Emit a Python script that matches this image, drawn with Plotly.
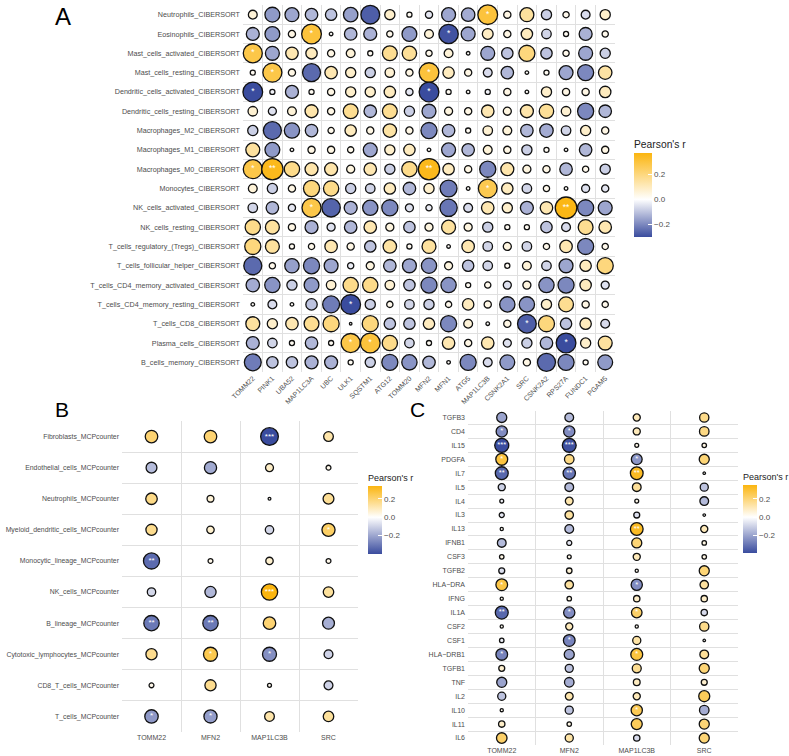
import numpy as np
import plotly.graph_objects as go

# ---------------- Panel A data ----------------
cols_A = ["TOMM22", "PINK1", "UBA52", "MAP1LC3A", "UBC", "ULK1", "SQSTM1", "ATG12",
          "TOMM20", "MFN2", "MFN1", "ATG5", "MAP1LC3B", "CSNK2A1", "SRC", "CSNK2A2",
          "RPS27A", "FUNDC1", "PGAM5"]
rows_A = ["Neutrophils_CIBERSORT", "Eosinophils_CIBERSORT", "Mast_cells_activated_CIBERSORT",
          "Mast_cells_resting_CIBERSORT", "Dendritic_cells_activated_CIBERSORT",
          "Dendritic_cells_resting_CIBERSORT", "Macrophages_M2_CIBERSORT", "Macrophages_M1_CIBERSORT",
          "Macrophages_M0_CIBERSORT", "Monocytes_CIBERSORT", "NK_cells_activated_CIBERSORT",
          "NK_cells_resting_CIBERSORT", "T_cells_regulatory_(Tregs)_CIBERSORT",
          "T_cells_follicular_helper_CIBERSORT", "T_cells_CD4_memory_activated_CIBERSORT",
          "T_cells_CD4_memory_resting_CIBERSORT", "T_cells_CD8_CIBERSORT", "Plasma_cells_CIBERSORT",
          "B_cells_memory_CIBERSORT"]
r_A = [
    [0.06, -0.17, -0.15, -0.12, -0.10, -0.16, -0.27, 0.08, 0.02, -0.04, -0.15, -0.14, 0.30, 0.04, 0.15, -0.08, 0.03, -0.06, 0.08],
    [-0.13, -0.17, 0.04, 0.30, 0.01, -0.12, -0.13, 0.03, -0.17, 0.06, -0.29, -0.15, 0.09, 0.04, 0.10, -0.07, 0.02, -0.13, 0.03],
    [0.28, -0.15, 0.12, 0.10, 0.04, 0.06, 0.02, 0.17, 0.16, 0.03, 0.06, 0.01, -0.15, -0.10, 0.20, -0.10, 0.03, -0.15, -0.08],
    [0.02, 0.28, 0.04, -0.25, 0.12, 0.08, -0.08, 0.07, 0.04, 0.30, 0.10, 0.04, -0.06, -0.12, 0.01, 0.02, -0.15, -0.20, 0.14],
    [-0.30, -0.02, -0.13, 0.02, 0.04, 0.08, 0.08, 0.10, -0.04, -0.30, 0.02, 0.01, -0.02, 0.04, 0.01, 0.08, 0.04, 0.04, 0.10],
    [0.07, -0.05, 0.06, 0.13, 0.04, 0.17, -0.12, 0.17, -0.08, -0.15, 0.05, 0.04, 0.12, 0.05, 0.13, 0.16, 0.07, -0.20, -0.12],
    [-0.08, -0.25, -0.18, -0.12, 0.03, 0.10, 0.04, 0.14, 0.04, -0.20, -0.12, 0.02, 0.07, 0.06, -0.12, -0.14, -0.07, 0.08, 0.04],
    [0.15, -0.17, 0.01, 0.04, 0.04, 0.03, -0.15, 0.08, 0.10, 0.01, -0.15, -0.12, 0.06, 0.04, -0.08, 0.02, 0.01, -0.12, 0.04],
    [0.28, 0.35, 0.18, 0.13, 0.13, 0.05, 0.12, -0.08, 0.18, 0.35, 0.10, 0.04, -0.20, 0.13, 0.05, 0.04, -0.12, 0.03, -0.08],
    [0.06, -0.08, 0.04, 0.20, 0.18, -0.08, -0.07, 0.10, -0.12, 0.08, -0.22, 0.01, 0.27, 0.10, -0.07, 0.03, 0.01, -0.05, -0.04],
    [-0.07, -0.12, -0.04, 0.28, -0.26, -0.13, -0.18, -0.20, -0.05, -0.03, -0.23, -0.06, 0.12, 0.08, -0.13, 0.12, 0.36, -0.20, -0.15],
    [0.18, 0.15, 0.04, -0.13, -0.05, -0.12, 0.12, 0.05, -0.10, 0.05, 0.15, 0.05, -0.08, 0.02, 0.02, -0.10, -0.06, 0.17, 0.12],
    [0.20, 0.15, 0.02, 0.03, 0.12, 0.04, -0.10, 0.14, 0.02, 0.15, 0.01, 0.12, -0.07, 0.05, -0.07, 0.03, 0.12, -0.20, 0.03],
    [-0.25, 0.03, -0.16, -0.20, -0.15, -0.03, 0.05, -0.12, -0.15, -0.18, 0.05, -0.10, -0.07, 0.02, 0.06, -0.07, -0.15, 0.10, 0.20],
    [-0.14, -0.18, -0.08, -0.17, 0.07, 0.18, 0.18, 0.07, -0.10, -0.20, -0.18, 0.02, 0.03, -0.05, 0.05, -0.18, -0.20, 0.10, -0.05],
    [0.01, -0.06, 0.01, -0.10, -0.22, -0.30, -0.08, 0.03, -0.07, -0.08, 0.03, 0.10, 0.04, -0.18, -0.18, 0.08, 0.17, 0.04, 0.03],
    [0.15, 0.08, 0.12, 0.17, 0.20, 0.005, 0.20, -0.10, -0.10, 0.10, -0.20, 0.06, 0.01, 0.04, -0.27, 0.20, -0.10, 0.10, -0.06],
    [-0.13, -0.07, 0.02, -0.12, 0.02, 0.28, 0.30, 0.18, -0.07, 0.02, 0.12, 0.04, 0.12, -0.05, -0.08, -0.12, -0.30, 0.08, 0.15],
    [-0.22, -0.10, -0.10, -0.13, -0.13, 0.02, -0.08, -0.20, -0.18, -0.12, 0.01, -0.20, -0.06, -0.17, 0.04, -0.25, -0.20, 0.02, -0.17],
]
sig_A = [
    ("Neutrophils_CIBERSORT", "MAP1LC3B", "*"),
    ("Eosinophils_CIBERSORT", "MAP1LC3A", "*"),
    ("Eosinophils_CIBERSORT", "MFN1", "*"),
    ("Mast_cells_activated_CIBERSORT", "TOMM22", "*"),
    ("Mast_cells_resting_CIBERSORT", "PINK1", "*"),
    ("Mast_cells_resting_CIBERSORT", "MFN2", "*"),
    ("Dendritic_cells_activated_CIBERSORT", "TOMM22", "*"),
    ("Dendritic_cells_activated_CIBERSORT", "MFN2", "*"),
    ("Macrophages_M0_CIBERSORT", "TOMM22", "*"),
    ("Macrophages_M0_CIBERSORT", "PINK1", "**"),
    ("Macrophages_M0_CIBERSORT", "MFN2", "**"),
    ("Monocytes_CIBERSORT", "MAP1LC3B", "*"),
    ("NK_cells_activated_CIBERSORT", "MAP1LC3A", "*"),
    ("NK_cells_activated_CIBERSORT", "RPS27A", "**"),
    ("T_cells_CD4_memory_resting_CIBERSORT", "ULK1", "*"),
    ("T_cells_CD8_CIBERSORT", "SRC", "*"),
    ("Plasma_cells_CIBERSORT", "ULK1", "*"),
    ("Plasma_cells_CIBERSORT", "SQSTM1", "*"),
    ("Plasma_cells_CIBERSORT", "RPS27A", "*"),
]

# ---------------- Panel B data ----------------
cols_B = ["TOMM22", "MFN2", "MAP1LC3B", "SRC"]
rows_B = ["Fibroblasts_MCPcounter", "Endothelial_cells_MCPcounter", "Neutrophils_MCPcounter",
          "Myeloid_dendritic_cells_MCPcounter", "Monocytic_lineage_MCPcounter", "NK_cells_MCPcounter",
          "B_lineage_MCPcounter", "Cytotoxic_lymphocytes_MCPcounter", "CD8_T_cells_MCPcounter",
          "T_cells_MCPcounter"]
r_B = [
    [0.20, 0.20, -0.40, 0.12],
    [-0.15, -0.19, 0.08, 0.03],
    [0.17, 0.06, 0.01, 0.15],
    [0.16, 0.07, -0.09, 0.22],
    [-0.33, 0.03, 0.07, 0.03],
    [-0.09, -0.16, 0.34, 0.14],
    [-0.30, -0.30, 0.20, -0.18],
    [0.16, 0.25, -0.25, -0.10],
    [0.03, 0.16, 0.02, -0.10],
    [-0.23, -0.22, 0.12, 0.14],
]
sig_B = [
    ("Fibroblasts_MCPcounter", "MAP1LC3B", "***"),
    ("Myeloid_dendritic_cells_MCPcounter", "SRC", "*"),
    ("Monocytic_lineage_MCPcounter", "TOMM22", "**"),
    ("NK_cells_MCPcounter", "MAP1LC3B", "***"),
    ("B_lineage_MCPcounter", "TOMM22", "**"),
    ("B_lineage_MCPcounter", "MFN2", "**"),
    ("Cytotoxic_lymphocytes_MCPcounter", "MFN2", "*"),
    ("Cytotoxic_lymphocytes_MCPcounter", "MAP1LC3B", "*"),
    ("T_cells_MCPcounter", "TOMM22", "*"),
    ("T_cells_MCPcounter", "MFN2", "*"),
]

# ---------------- Panel C data ----------------
cols_C = ["TOMM22", "MFN2", "MAP1LC3B", "SRC"]
rows_C = ["TGFB3", "CD4", "IL15", "PDGFA", "IL7", "IL5", "IL4", "IL3", "IL13", "IFNB1", "CSF3",
          "TGFB2", "HLA\u2212DRA", "IFNG", "IL1A", "CSF2", "CSF1", "HLA\u2212DRB1", "TGFB1", "TNF",
          "IL2", "IL10", "IL11", "IL6"]
r_C = [
    [-0.20, -0.15, 0.10, 0.17],
    [-0.25, -0.25, 0.10, 0.18],
    [-0.39, -0.38, 0.03, 0.04],
    [0.28, 0.18, -0.23, 0.20],
    [-0.33, -0.30, 0.32, 0.01],
    [-0.10, -0.15, 0.15, -0.13],
    [-0.03, 0.12, 0.03, -0.15],
    [-0.05, 0.14, -0.07, 0.005],
    [0.02, -0.15, 0.32, 0.10],
    [-0.15, -0.05, 0.20, 0.04],
    [0.04, 0.03, 0.10, 0.04],
    [-0.07, 0.06, 0.02, 0.20],
    [0.27, 0.14, -0.25, 0.14],
    [0.02, 0.04, 0.08, 0.08],
    [-0.33, -0.25, 0.22, -0.08],
    [0.02, 0.10, 0.02, 0.17],
    [-0.04, -0.27, 0.13, 0.01],
    [-0.27, -0.20, 0.28, 0.15],
    [0.07, -0.13, 0.16, 0.20],
    [-0.20, -0.18, 0.09, 0.07],
    [-0.13, 0.12, 0.10, 0.24],
    [0.02, -0.13, 0.25, -0.18],
    [0.08, 0.04, 0.24, 0.20],
    [0.22, 0.13, -0.08, 0.20],
]
sig_C = [
    ("CD4", "TOMM22", "*"), ("CD4", "MFN2", "*"),
    ("IL15", "TOMM22", "***"), ("IL15", "MFN2", "***"),
    ("PDGFA", "TOMM22", "*"), ("PDGFA", "MAP1LC3B", "*"),
    ("IL7", "TOMM22", "**"), ("IL7", "MFN2", "**"), ("IL7", "MAP1LC3B", "**"),
    ("IL13", "MAP1LC3B", "**"),
    ("HLA\u2212DRA", "TOMM22", "*"), ("HLA\u2212DRA", "MAP1LC3B", "*"),
    ("IL1A", "TOMM22", "**"), ("IL1A", "MFN2", "*"), ("IL1A", "MAP1LC3B", "*"),
    ("CSF1", "MFN2", "*"),
    ("HLA\u2212DRB1", "TOMM22", "*"), ("HLA\u2212DRB1", "MAP1LC3B", "*"),
    ("IL10", "MAP1LC3B", "*"),
]

# ---------------- styling ----------------
W, H = 789, 756
BLUE = "#3A4C9E"
ORANGE = "#FBB50F"
FONT = "Liberation Sans, Arial, sans-serif"
GREY = "#4D4D4D"


def px_x(p):
    return p / W


def px_y(p):
    return 1 - p / H


def scale(cmin, cmax):
    mid = -cmin / (cmax - cmin)
    return [[0, BLUE], [mid, "#FFFFFF"], [1, ORANGE]]


def panel_trace(rows, cols, r, sig, k, dmin, star_size, xa, ya, cax):
    xs, ys, vals, txt = [], [], [], []
    lut = {(a, b): s for a, b, s in sig}
    for i, rn in enumerate(rows):
        for j, cn in enumerate(cols):
            xs.append(cn)
            ys.append(rn)
            vals.append(r[i][j])
            txt.append(lut.get((rn, cn), ""))
    vals = np.array(vals)
    sizes = np.maximum(k * np.sqrt(np.abs(vals)), dmin)
    return go.Scatter(
        x=xs, y=ys, mode="markers+text", text=txt,
        textposition="middle center",
        textfont=dict(color="white", size=star_size, family=FONT),
        marker=dict(size=sizes, color=vals, coloraxis=cax,
                    line=dict(color="#111111", width=1.3), opacity=1),
        xaxis=xa, yaxis=ya, hoverinfo="skip", showlegend=False, cliponaxis=False,
    )


fig = go.Figure()
fig.add_trace(panel_trace(rows_A, cols_A, r_A, sig_A, 36, 2.5, 8.5, "x", "y", "coloraxis"))
fig.add_trace(panel_trace(rows_B, cols_B, r_B, sig_B, 28, 2.5, 8, "x2", "y2", "coloraxis2"))
fig.add_trace(panel_trace(rows_C, cols_C, r_C, sig_C, 22.5, 2.5, 7.5, "x3", "y3", "coloraxis3"))

grid_col = "#E0E0E0"


def xaxis(dom, cats, angle, size):
    return dict(domain=dom, type="category", categoryorder="array", categoryarray=cats,
                range=[-0.5, len(cats) - 0.5], tickson="boundaries", showgrid=True,
                gridcolor=grid_col, gridwidth=1, zeroline=False, showline=False,
                ticks="", tickangle=angle, tickfont=dict(size=size, color=GREY, family=FONT),
                fixedrange=True, automargin=False)


def yaxis(dom, cats, size):
    return dict(domain=dom, type="category", categoryorder="array", categoryarray=cats,
                range=[len(cats) - 0.5, -0.5], tickson="boundaries", showgrid=True,
                gridcolor=grid_col, gridwidth=1, zeroline=False, showline=False,
                ticks="", tickfont=dict(size=size, color=GREY, family=FONT), fixedrange=True,
                automargin=False, ticklabelstandoff=2)


def cbar(x, ytop, length, title_size, thick):
    return dict(x=px_x(x), xanchor="left", y=px_y(ytop), yanchor="top",
                len=length, lenmode="pixels", thickness=thick,
                thicknessmode="pixels", outlinewidth=0, xpad=0, ypad=0,
                title=dict(text="Pearson's r", side="top", font=dict(size=title_size, color="#222222", family=FONT)),
                tickvals=[-0.2, 0.0, 0.2], ticktext=["\u22120.2", "0.0", "0.2"],
                ticks="inside", ticklen=4, tickcolor="white", tickwidth=1,
                tickfont=dict(size=8, color=GREY, family=FONT))


def letter(t, x, y, s):
    return dict(text=t, x=px_x(x), y=px_y(y), xref="paper", yref="paper", showarrow=False,
                xanchor="center", yanchor="middle", font=dict(size=s, color="black", family=FONT))


fig.update_layout(
    width=W, height=H, margin=dict(l=0, r=0, t=0, b=0, autoexpand=False),
    paper_bgcolor="white", plot_bgcolor="white",
    font=dict(family=FONT),
    xaxis=xaxis([px_x(243), px_x(615)], cols_A, -45, 7),
    yaxis=yaxis([px_y(372), px_y(5)], rows_A, 7.2),
    xaxis2=dict(xaxis([px_x(122), px_x(358)], cols_B, 0, 7), anchor="y2"),
    yaxis2=dict(yaxis([px_y(732), px_y(421)], rows_B, 6.9), anchor="x2"),
    xaxis3=dict(xaxis([px_x(468), px_x(738)], cols_C, 0, 7), anchor="y3"),
    yaxis3=dict(yaxis([px_y(745), px_y(410.5)], rows_C, 7), anchor="x3"),
    coloraxis=dict(cmin=-0.30, cmax=0.37, colorscale=scale(-0.30, 0.37), colorbar=cbar(634, 137, 100, 10.3, 18)),
    coloraxis2=dict(cmin=-0.40, cmax=0.34, colorscale=scale(-0.40, 0.34), colorbar=cbar(368, 471, 83, 9, 14)),
    coloraxis3=dict(cmin=-0.39, cmax=0.35, colorscale=scale(-0.39, 0.35), colorbar=cbar(743, 470, 83, 9, 14)),
    annotations=[
        letter("A", 63, 17, 24),
        letter("B", 62, 409, 21),
        letter("C", 417, 409, 21),
    ],
)

# remove the browser's default 8px body margin so the figure sits at the page origin
fig.write_html("out.html", config={"displayModeBar": False},
               post_script="document.body.style.margin='0px';")
